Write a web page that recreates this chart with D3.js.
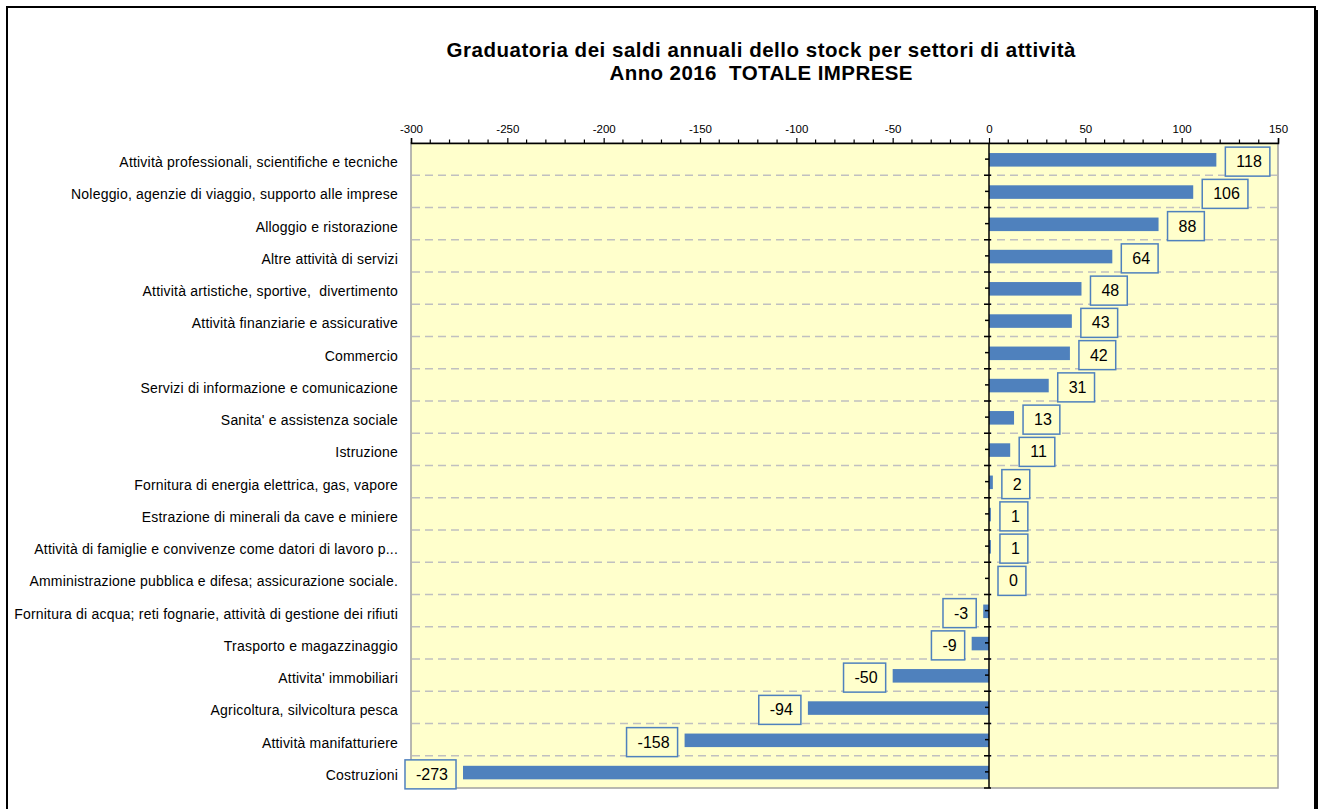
<!DOCTYPE html>
<html><head><meta charset="utf-8">
<script src="https://cdnjs.cloudflare.com/ajax/libs/d3/7.8.5/d3.min.js"></script>
<style>body{margin:0;background:#fff;}svg{display:block;font-family:Arial,"Liberation Sans",sans-serif;}</style>
</head><body><svg id="c" width="1321" height="809"></svg>
<script>
const categories = [
  "Attività professionali, scientifiche e tecniche",
  "Noleggio, agenzie di viaggio, supporto alle imprese",
  "Alloggio e ristorazione",
  "Altre attività di servizi",
  "Attività artistiche, sportive,  divertimento",
  "Attività finanziarie e assicurative",
  "Commercio",
  "Servizi di informazione e comunicazione",
  "Sanita' e assistenza sociale",
  "Istruzione",
  "Fornitura di energia elettrica, gas, vapore",
  "Estrazione di minerali da cave e miniere",
  "Attività di famiglie e convivenze come datori di lavoro p...",
  "Amministrazione pubblica e difesa; assicurazione sociale.",
  "Fornitura di acqua; reti fognarie, attività di gestione dei rifiuti",
  "Trasporto e magazzinaggio",
  "Attivita' immobiliari",
  "Agricoltura, silvicoltura pesca",
  "Attività manifatturiere",
  "Costruzioni"
];
const values = [118, 106, 88, 64, 48, 43, 42, 31, 13, 11, 2, 1, 1, 0, -3, -9, -50, -94, -158, -273];
const xTicks = [-300, -250, -200, -150, -100, -50, 0, 50, 100, 150];
const titleLines = ["Graduatoria dei saldi annuali dello stock per settori di attività", "Anno 2016  TOTALE IMPRESE"];

const svg = d3.select("#c");
const L = 411, R = 1278, T = 143, B = 788;
const x = d3.scaleLinear().domain([-300, 150]).range([L, R]);
const y = d3.scaleBand().domain(categories).range([T, B]).padding(0);
const bw = y.bandwidth();

// outer frame with shadow
svg.append("rect").attr("x", 10).attr("y", 10).attr("width", 1308).attr("height", 810).attr("fill", "#000");
svg.append("rect").attr("x", 7).attr("y", 7).attr("width", 1308).attr("height", 810)
  .attr("fill", "#fff").attr("stroke", "#000").attr("stroke-width", 2);

// title
const titleW = [629, 303];
svg.append("g").selectAll("text").data(titleLines).join("text")
  .attr("x", 761).attr("y", (d, i) => 57 + i * 23)
  .attr("text-anchor", "middle").attr("font-weight", "bold").attr("font-size", 20.5)
  .attr("textLength", (d, i) => titleW[i]).attr("lengthAdjust", "spacing")
  .style("white-space", "pre")
  .attr("fill", "#000").text(d => d);

// plot area
svg.append("rect").attr("x", L).attr("y", T).attr("width", R - L).attr("height", B - T)
  .attr("fill", "#ffffcc").attr("stroke", "#a0a0a0").attr("stroke-width", 1.5);

// dashed grid at category boundaries
const bounds = categories.slice(1).map(c => y(c));
svg.append("g").selectAll("line").data(bounds).join("line")
  .attr("x1", L + 1).attr("x2", R - 1).attr("y1", d => d).attr("y2", d => d)
  .attr("stroke", "#c0c0c0").attr("stroke-width", 1.5).attr("stroke-dasharray", "8,5");

// bars
const barH = bw * 0.42;
svg.append("g").selectAll("rect").data(values).join("rect")
  .attr("x", d => x(Math.min(0, d)))
  .attr("width", d => Math.abs(x(d) - x(0)))
  .attr("y", (d, i) => y(categories[i]) + bw / 2 - barH / 2 + 0.7)
  .attr("height", barH)
  .attr("fill", "#4f81bd");

// top axis
const axis = d3.axisTop(x).tickValues(xTicks).tickSize(5).tickPadding(5).tickFormat(d => String(d));
const ax = svg.append("g").attr("transform", `translate(0,${T})`).call(axis);
ax.select(".domain").attr("stroke", "#000").attr("stroke-width", 1.5);
ax.selectAll(".tick line").attr("stroke", "#000").attr("stroke-width", 1.2);
ax.selectAll(".tick text").attr("font-size", 11.5).attr("fill", "#000").attr("font-family", "Arial, 'Liberation Sans', sans-serif");
const minor = d3.range(-300, 151, 10).filter(v => v % 50 !== 0);
svg.append("g").selectAll("line").data(minor).join("line")
  .attr("x1", d => x(d)).attr("x2", d => x(d)).attr("y1", T).attr("y2", T - 3.5)
  .attr("stroke", "#000").attr("stroke-width", 1.2);

// zero category axis
const x0 = x(0);
svg.append("line").attr("x1", x0).attr("x2", x0).attr("y1", T).attr("y2", B)
  .attr("stroke", "#000").attr("stroke-width", 1.5);
svg.append("g").selectAll("line").data(bounds.concat([B])).join("line")
  .attr("x1", x0 - 5).attr("x2", x0 + 2).attr("y1", d => d).attr("y2", d => d)
  .attr("stroke", "#000").attr("stroke-width", 1.5);
svg.append("g").selectAll("line").data(categories).join("line")
  .attr("x1", x0 - 4).attr("x2", x0).attr("y1", d => y(d) + bw / 2).attr("y2", d => y(d) + bw / 2)
  .attr("stroke", "#000").attr("stroke-width", 1.5);

// category labels
svg.append("g").selectAll("text").data(categories).join("text")
  .attr("x", 398).attr("y", d => y(d) + bw / 2 + 8)
  .attr("text-anchor", "end").attr("font-size", 14).attr("letter-spacing", 0.2).attr("fill", "#000")
  .style("white-space", "pre").text(d => d);

// data labels with boxes
const lg = svg.append("g");
values.forEach((v, i) => {
  const cy = y(categories[i]) + bw / 2;
  const t = lg.append("text").attr("font-size", 16).attr("fill", "#000").attr("text-anchor", "middle").text(String(v));
  const tw = t.node().getComputedTextLength();
  const w = tw + 19;
  const bx = v >= 0 ? x(v) + 9 : x(v) - 7 - w;
  lg.insert("rect", "text").attr("x", bx).attr("y", cy - 12).attr("width", w).attr("height", 29)
    .attr("fill", "#ffffcc").attr("stroke", "#4f81bd").attr("stroke-width", 1.5);
  t.attr("x", bx + w / 2 + 1.5).attr("y", cy + 8);
});
</script></body></html>
